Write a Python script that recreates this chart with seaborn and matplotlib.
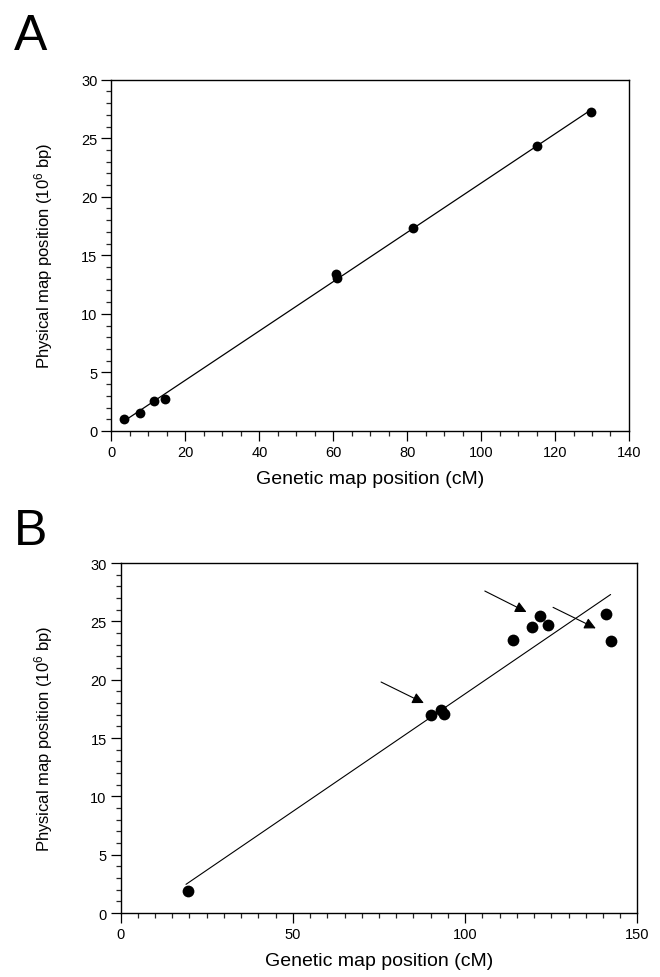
## genetic vs physical map position, panels A and B

import numpy as np
import pandas as pd
import seaborn as sns
import matplotlib.pyplot as plt
from matplotlib.ticker import MultipleLocator

# panel A markers
genetic_a = [3.4, 7.6, 11.5, 14.6, 60.8, 61.0, 81.6, 115.1, 129.6]
physical_a = [1.05, 1.55, 2.6, 2.75, 13.4, 13.1, 17.3, 24.3, 27.2]

# panel B markers
genetic_b = [19.6, 90.1, 92.9, 94.0, 113.8, 119.3, 121.7, 123.9, 141.0, 142.3]
physical_b = [1.85, 17.0, 17.4, 17.1, 23.4, 24.5, 25.5, 24.7, 25.6, 23.3]

# fitted line in panel B, end points
fit_b_x = [19.0, 142.2]
fit_b_y = [2.46, 27.3]

# arrows in panel B, tail -> head
arrow_tail_x = [75.6, 105.7, 125.5]
arrow_tail_y = [19.8, 27.6, 26.2]
arrow_head_x = [88.0, 117.8, 137.9]
arrow_head_y = [18.0, 25.8, 24.4]

xlabel = "Genetic map position (cM)"
ylabel = "Physical map position (10$^6$ bp)"

df_a = pd.DataFrame({"genetic": genetic_a, "physical": physical_a})
df_b = pd.DataFrame({"genetic": genetic_b, "physical": physical_b})
df_fit = pd.DataFrame({"genetic": fit_b_x, "physical": fit_b_y})

sns.set_style("ticks")
plt.rcParams['font.family'] = ['Liberation Sans', 'DejaVu Sans']
plt.rcParams['mathtext.default'] = 'regular'
plt.rcParams['text.color'] = 'black'
plt.rcParams['axes.labelcolor'] = 'black'

fig = plt.figure(figsize=(6.6, 9.78), dpi=100)
ax_a = fig.add_axes([0.1689, 0.5583, 0.7841, 0.3592])
ax_b = fig.add_axes([0.1826, 0.0654, 0.7833, 0.3579])

sns.regplot(data=df_a, x="genetic", y="physical", ax=ax_a, ci=None, color="black",
            scatter_kws={"s": 50, "alpha": 1, "linewidths": 0},
            line_kws={"lw": 0.9})

sns.lineplot(data=df_fit, x="genetic", y="physical", ax=ax_b, color="black", lw=0.8)
sns.scatterplot(data=df_b, x="genetic", y="physical", ax=ax_b, color="black",
                s=72, linewidth=0, zorder=3)

for tx, ty, hx, hy in zip(arrow_tail_x, arrow_tail_y, arrow_head_x, arrow_head_y):
    ax_b.annotate("", xy=(hx, hy), xytext=(tx, ty),
                  arrowprops=dict(arrowstyle="-|>", color="black", lw=0.8,
                                  mutation_scale=17, shrinkA=0, shrinkB=0))

for ax, xmax, xmajor, ylab_x in [(ax_a, 140, 20, -0.109), (ax_b, 150, 50, -0.127)]:
    ax.set_xlim(0, xmax)
    ax.set_ylim(0, 30)
    ax.xaxis.set_major_locator(MultipleLocator(xmajor))
    ax.xaxis.set_minor_locator(MultipleLocator(5))
    ax.yaxis.set_major_locator(MultipleLocator(5))
    ax.yaxis.set_minor_locator(MultipleLocator(1))
    ax.tick_params(which="major", direction="out", length=7, width=0.9, pad=3,
                   labelsize=10.5, colors="black")
    ax.tick_params(which="minor", direction="out", length=3.5, width=0.9)
    for s in ax.spines.values():
        s.set_linewidth(1.0)
        s.set_color("black")
    ax.set_xlabel(xlabel, fontsize=14, labelpad=8)
    ax.set_ylabel(ylabel, fontsize=12)
    ax.yaxis.set_label_coords(ylab_x, 0.5)

fig.text(14 / 660, 1 - 50 / 978, "A", fontsize=36, va="baseline")
fig.text(14 / 660, 1 - 545 / 978, "B", fontsize=36, va="baseline")

fig.savefig("out.png", dpi=100)
plt.close(fig)
